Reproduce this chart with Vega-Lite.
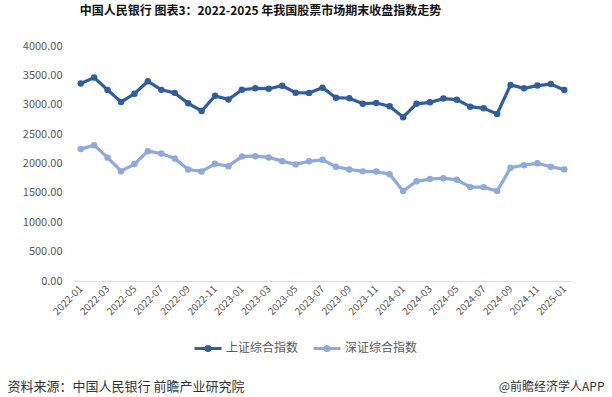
{
  "$schema": "https://vega.github.io/schema/vega-lite/v6.json",
  "autosize": {"type": "none"},
  "padding": {"left": 74, "top": 46, "right": 41, "bottom": 116},
  "width": 497,
  "height": 235,
  "background": "white",
  "config": {
    "view": {"stroke": null},
    "font": "Noto Sans CJK SC"
  },
  "title": {
    "text": "中国人民银行  图表3：2022-2025 年我国股票市场期末收盘指数走势",
    "font": "Noto Sans CJK SC",
    "fontSize": 12,
    "fontWeight": "bold",
    "color": "#111111",
    "anchor": "middle",
    "frame": "group",
    "dx": -62,
    "offset": 22
  },
  "data": {
    "values": [
      {"month": "2022-01", "上证综合指数": 3361.44, "深证综合指数": 2245},
      {"month": "2022-02", "上证综合指数": 3462.31, "深证综合指数": 2312},
      {"month": "2022-03", "上证综合指数": 3252.20, "深证综合指数": 2100},
      {"month": "2022-04", "上证综合指数": 3047.06, "深证综合指数": 1870},
      {"month": "2022-05", "上证综合指数": 3186.43, "深证综合指数": 1990},
      {"month": "2022-06", "上证综合指数": 3398.62, "深证综合指数": 2210},
      {"month": "2022-07", "上证综合指数": 3253.24, "深证综合指数": 2170},
      {"month": "2022-08", "上证综合指数": 3202.14, "深证综合指数": 2085},
      {"month": "2022-09", "上证综合指数": 3024.39, "深证综合指数": 1898},
      {"month": "2022-10", "上证综合指数": 2893.48, "深证综合指数": 1865},
      {"month": "2022-11", "上证综合指数": 3151.34, "深证综合指数": 1994},
      {"month": "2022-12", "上证综合指数": 3089.26, "深证综合指数": 1955},
      {"month": "2023-01", "上证综合指数": 3255.67, "深证综合指数": 2120},
      {"month": "2023-02", "上证综合指数": 3279.61, "深证综合指数": 2125},
      {"month": "2023-03", "上证综合指数": 3272.86, "深证综合指数": 2103},
      {"month": "2023-04", "上证综合指数": 3323.27, "深证综合指数": 2040},
      {"month": "2023-05", "上证综合指数": 3204.56, "深证综合指数": 1985},
      {"month": "2023-06", "上证综合指数": 3202.06, "深证综合指数": 2038},
      {"month": "2023-07", "上证综合指数": 3291.04, "深证综合指数": 2062},
      {"month": "2023-08", "上证综合指数": 3119.88, "深证综合指数": 1945},
      {"month": "2023-09", "上证综合指数": 3110.48, "深证综合指数": 1899},
      {"month": "2023-10", "上证综合指数": 3018.77, "深证综合指数": 1866},
      {"month": "2023-11", "上证综合指数": 3029.67, "深证综合指数": 1862},
      {"month": "2023-12", "上证综合指数": 2974.93, "深证综合指数": 1818},
      {"month": "2024-01", "上证综合指数": 2788.55, "深证综合指数": 1532},
      {"month": "2024-02", "上证综合指数": 3015.17, "深证综合指数": 1697},
      {"month": "2024-03", "上证综合指数": 3041.17, "深证综合指数": 1735},
      {"month": "2024-04", "上证综合指数": 3104.82, "深证综合指数": 1750},
      {"month": "2024-05", "上证综合指数": 3086.81, "深证综合指数": 1722},
      {"month": "2024-06", "上证综合指数": 2967.40, "深证综合指数": 1598},
      {"month": "2024-07", "上证综合指数": 2938.75, "深证综合指数": 1598},
      {"month": "2024-08", "上证综合指数": 2842.21, "深证综合指数": 1530},
      {"month": "2024-09", "上证综合指数": 3336.50, "深证综合指数": 1928},
      {"month": "2024-10", "上证综合指数": 3279.82, "深证综合指数": 1972},
      {"month": "2024-11", "上证综合指数": 3326.46, "深证综合指数": 2003},
      {"month": "2024-12", "上证综合指数": 3351.76, "深证综合指数": 1944},
      {"month": "2025-01", "上证综合指数": 3250.60, "深证综合指数": 1900}
    ]
  },
  "transform": [
    {"fold": ["上证综合指数", "深证综合指数"], "as": ["series", "value"]}
  ],
  "mark": {"type": "line", "strokeWidth": 3.2, "point": {"filled": true, "size": 42}},
  "encoding": {
    "x": {
      "field": "month",
      "type": "ordinal",
      "sort": null,
      "scale": {"type": "point", "padding": 0.5},
      "axis": {
        "values": ["2022-01","2022-03","2022-05","2022-07","2022-09","2022-11","2023-01","2023-03","2023-05","2023-07","2023-09","2023-11","2024-01","2024-03","2024-05","2024-07","2024-09","2024-11","2025-01"],
        "labelAngle": -45,
        "labelAlign": "right",
        "labelBaseline": "middle",
        "labelFontSize": 10,
        "labelColor": "#595959",
        "labelPadding": 6,
        "ticks": false,
        "domainColor": "#d9d9d9",
        "domainWidth": 1,
        "grid": false,
        "title": "资料来源：中国人民银行 前瞻产业研究院",
        "titleAnchor": "start",
        "titleAlign": "left",
        "titleX": -67,
        "titleY": 109,
        "titleBaseline": "alphabetic",
        "titleFontSize": 13,
        "titleFontWeight": "normal",
        "titleColor": "#333333"
      }
    },
    "y": {
      "field": "value",
      "type": "quantitative",
      "scale": {"domain": [0, 4000]},
      "axis": {
        "values": [0, 500, 1000, 1500, 2000, 2500, 3000, 3500, 4000],
        "format": ".2f",
        "labelFontSize": 11,
        "labelColor": "#595959",
        "labelPadding": 12,
        "ticks": false,
        "domain": false,
        "grid": false,
        "title": "@前瞻经济学人APP",
        "titleAngle": 0,
        "titleAlign": "right",
        "titleAnchor": null,
        "titleX": 530,
        "titleY": 344,
        "titleBaseline": "alphabetic",
        "titleFontSize": 12,
        "titleFontWeight": "normal",
        "titleColor": "#333333"
      }
    },
    "color": {
      "field": "series",
      "type": "nominal",
      "scale": {"domain": ["上证综合指数", "深证综合指数"], "range": ["#2F5D9E", "#8EA9DB"]},
      "legend": {
        "title": null,
        "orient": "none",
        "direction": "horizontal",
        "legendX": 119,
        "legendY": 287,
        "symbolType": "M-1,0L1,0M-0.15,0A0.15,0.15 0 1,0 0.15,0A0.15,0.15 0 1,0 -0.15,0",
        "symbolSize": 729,
        "symbolStrokeWidth": 3,
        "labelFontSize": 12,
        "labelColor": "#595959",
        "labelOffset": 3,
        "columnPadding": 8
      }
    }
  }
}
